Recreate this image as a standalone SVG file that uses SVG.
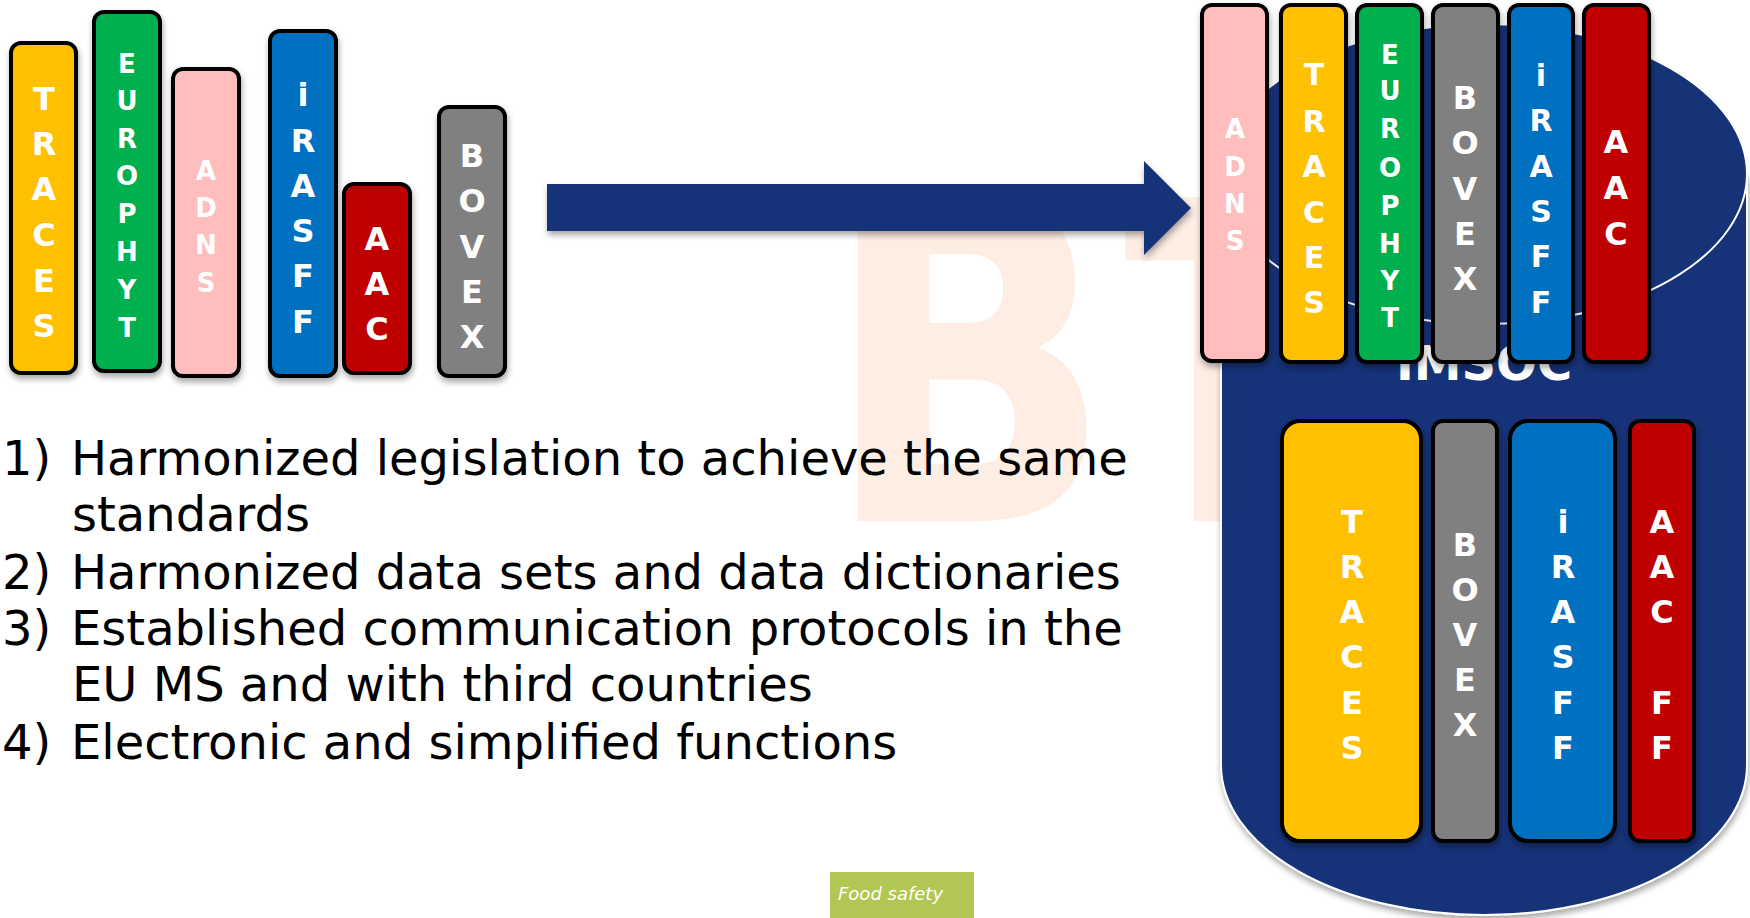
<svg xmlns="http://www.w3.org/2000/svg" width="1750" height="918" viewBox="0 0 1750 918">
<defs>
<filter id="sh" x="-30%" y="-10%" width="160%" height="125%">
<feDropShadow dx="1" dy="4" stdDeviation="3" flood-color="#000" flood-opacity="0.35"/>
</filter>
<style>
.box{stroke:#000;stroke-width:4;filter:url(#sh)}
.y{fill:#FFC000}.g{fill:#00B050}.p{fill:#FFBDBD}.b{fill:#0070C0}.r{fill:#C00000}.gr{fill:#808080}
.lt{font-family:"DejaVu Sans",Verdana,sans-serif;font-weight:bold;fill:#fff;text-anchor:middle}
.f32{font-size:32px}.f30{font-size:30px}.f26{font-size:26px}
.list{font-family:"DejaVu Sans",Verdana,sans-serif;font-size:48px;fill:#000}
.wm{font-family:"DejaVu Sans",sans-serif;font-weight:bold;font-size:444px;fill:#FDEDE3}
</style>
</defs>
<rect width="1750" height="918" fill="#fff"/>

<g id="watermark">
<text class="wm" transform="translate(857,521) scale(0.858,1)" x="-40" y="0">B</text>
<text class="wm" transform="translate(1125,521) scale(0.64,1)" x="-2" y="0">T</text>
</g>

<g id="left-systems">
<g id="l-traces"><rect class="box y" x="11" y="43" width="65" height="330" rx="10"/>
<text class="lt f32"><tspan x="44" y="110">T</tspan><tspan x="44" y="155">R</tspan><tspan x="44" y="200">A</tspan><tspan x="44" y="246">C</tspan><tspan x="44" y="292">E</tspan><tspan x="44" y="337">S</tspan></text></g>
<g id="l-europhyt"><rect class="box g" x="94" y="12" width="66" height="359" rx="10"/>
<text class="lt f26"><tspan x="127" y="73">E</tspan><tspan x="127" y="110">U</tspan><tspan x="127" y="148">R</tspan><tspan x="127" y="185">O</tspan><tspan x="127" y="223">P</tspan><tspan x="127" y="261">H</tspan><tspan x="127" y="299">Y</tspan><tspan x="127" y="337">T</tspan></text></g>
<g id="l-adns"><rect class="box p" x="173" y="69" width="66" height="307" rx="10"/>
<text class="lt f26"><tspan x="206" y="180">A</tspan><tspan x="206" y="217">D</tspan><tspan x="206" y="254">N</tspan><tspan x="206" y="292">S</tspan></text></g>
<g id="l-irasff"><rect class="box b" x="270" y="31" width="66" height="345" rx="10"/>
<text class="lt f32"><tspan x="303" y="106">i</tspan><tspan x="303" y="152">R</tspan><tspan x="303" y="197">A</tspan><tspan x="303" y="242">S</tspan><tspan x="303" y="287">F</tspan><tspan x="303" y="333">F</tspan></text></g>
<g id="l-aac"><rect class="box r" x="344" y="184" width="66" height="189" rx="10"/>
<text class="lt f32"><tspan x="377" y="250">A</tspan><tspan x="377" y="295">A</tspan><tspan x="377" y="340">C</tspan></text></g>
<g id="l-bovex"><rect class="box gr" x="439" y="107" width="66" height="269" rx="10"/>
<text class="lt f32"><tspan x="472" y="167">B</tspan><tspan x="472" y="212">O</tspan><tspan x="472" y="258">V</tspan><tspan x="472" y="303">E</tspan><tspan x="472" y="348">X</tspan></text></g>
</g>

<g id="connectors">
<path d="M547,184 L1144,184 L1144,161 L1191,208 L1144,255 L1144,231 L547,231 Z" fill="#163378" filter="url(#sh)"/>
</g>

<g id="imsoc">
<path d="M1221,174 L1221,765 A263,150 0 0 0 1747,765 L1747,174 Z" fill="#163378" stroke="#fff" stroke-width="2" filter="url(#sh)"/>
<ellipse cx="1484" cy="174" rx="263" ry="150" fill="#163378" stroke="#fff" stroke-width="2"/>
<text x="1484" y="380" text-anchor="middle" font-family="'DejaVu Sans',Verdana,sans-serif" font-weight="bold" font-size="48" fill="#fff">IMSOC</text>
</g>

<g id="top-systems">
<g id="t-adns"><rect class="box p" x="1202" y="5" width="65" height="356" rx="10"/>
<text class="lt f26"><tspan x="1235" y="138">A</tspan><tspan x="1235" y="176">D</tspan><tspan x="1235" y="213">N</tspan><tspan x="1235" y="250">S</tspan></text></g>
<g id="t-traces"><rect class="box y" x="1281" y="5" width="65" height="357" rx="10"/>
<text class="lt f30"><tspan x="1314" y="85">T</tspan><tspan x="1314" y="132">R</tspan><tspan x="1314" y="177">A</tspan><tspan x="1314" y="223">C</tspan><tspan x="1314" y="268">E</tspan><tspan x="1314" y="313">S</tspan></text></g>
<g id="t-europhyt"><rect class="box g" x="1357" y="5" width="65" height="357" rx="10"/>
<text class="lt f26"><tspan x="1390" y="64">E</tspan><tspan x="1390" y="100">U</tspan><tspan x="1390" y="138">R</tspan><tspan x="1390" y="177">O</tspan><tspan x="1390" y="215">P</tspan><tspan x="1390" y="253">H</tspan><tspan x="1390" y="290">Y</tspan><tspan x="1390" y="327">T</tspan></text></g>
<g id="t-bovex"><rect class="box gr" x="1433" y="5" width="65" height="357" rx="10"/>
<text class="lt f32"><tspan x="1465" y="109">B</tspan><tspan x="1465" y="154">O</tspan><tspan x="1465" y="200">V</tspan><tspan x="1465" y="245">E</tspan><tspan x="1465" y="290">X</tspan></text></g>
<g id="t-irasff"><rect class="box b" x="1509" y="5" width="64" height="357" rx="10"/>
<text class="lt f30"><tspan x="1541" y="86">i</tspan><tspan x="1541" y="131">R</tspan><tspan x="1541" y="177">A</tspan><tspan x="1541" y="222">S</tspan><tspan x="1541" y="267">F</tspan><tspan x="1541" y="313">F</tspan></text></g>
<g id="t-aac"><rect class="box r" x="1584" y="5" width="65" height="357" rx="10"/>
<text class="lt f32"><tspan x="1616" y="153">A</tspan><tspan x="1616" y="199">A</tspan><tspan x="1616" y="245">C</tspan></text></g>
</g>

<g id="bottom-systems">
<g id="b-traces"><rect class="box y" x="1282" y="421" width="139" height="420" rx="18"/>
<text class="lt f32"><tspan x="1352" y="533">T</tspan><tspan x="1352" y="578">R</tspan><tspan x="1352" y="623">A</tspan><tspan x="1352" y="668">C</tspan><tspan x="1352" y="714">E</tspan><tspan x="1352" y="759">S</tspan></text></g>
<g id="b-bovex"><rect class="box gr" x="1433" y="421" width="64" height="420" rx="10"/>
<text class="lt f32"><tspan x="1465" y="556">B</tspan><tspan x="1465" y="601">O</tspan><tspan x="1465" y="646">V</tspan><tspan x="1465" y="691">E</tspan><tspan x="1465" y="736">X</tspan></text></g>
<g id="b-irasff"><rect class="box b" x="1510" y="421" width="105" height="420" rx="18"/>
<text class="lt f32"><tspan x="1563" y="533">i</tspan><tspan x="1563" y="578">R</tspan><tspan x="1563" y="623">A</tspan><tspan x="1563" y="668">S</tspan><tspan x="1563" y="714">F</tspan><tspan x="1563" y="759">F</tspan></text></g>
<g id="b-aacff"><rect class="box r" x="1630" y="421" width="64" height="420" rx="10"/>
<text class="lt f32"><tspan x="1662" y="533">A</tspan><tspan x="1662" y="578">A</tspan><tspan x="1662" y="623">C</tspan><tspan x="1662" y="714">F</tspan><tspan x="1662" y="759">F</tspan></text></g>
</g>

<g id="list">
<text class="list" x="2" y="475">1)</text><text class="list" x="71" y="475">Harmonized legislation to achieve the same</text>
<text class="list" x="72" y="531">standards</text>
<text class="list" x="2" y="589">2)</text><text class="list" x="71" y="589">Harmonized data sets and data dictionaries</text>
<text class="list" x="2" y="645">3)</text><text class="list" x="71" y="645">Established communication protocols in the</text>
<text class="list" x="72" y="701">EU MS and with third countries</text>
<text class="list" x="2" y="759">4)</text><text class="list" x="71" y="759">Electronic and simplified functions</text>
</g>

<g id="footer">
<rect x="830" y="872" width="144" height="46" fill="#B2C655"/>
<text x="838" y="900" font-family="'DejaVu Sans',Verdana,sans-serif" font-style="italic" font-size="18" fill="#fff">Food safety</text>
</g>
</svg>
